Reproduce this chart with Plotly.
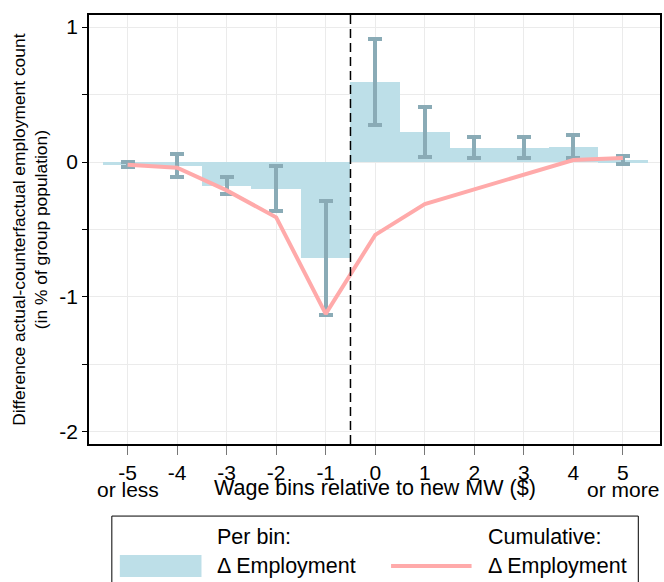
import plotly.graph_objects as go

# wage bins relative to the new minimum wage
bins = [-5, -4, -3, -2, -1, 0, 1, 2, 3, 4, 5]
tick_labels = ["-5", "-4", "-3", "-2", "-1", "0", "1", "2", "3", "4", "5"]
edge_labels = {-5: "or less", 5: "or more"}

# per-bin change in employment (% of group population)
per_bin = [-0.02, -0.027, -0.175, -0.198, -0.714, 0.595, 0.222, 0.106, 0.106, 0.113, 0.012]
ci_low = [-0.035, -0.111, -0.239, -0.36, -1.133, 0.274, 0.04, 0.027, 0.027, 0.032, -0.012]
ci_high = [0.002, 0.062, -0.109, -0.03, -0.291, 0.911, 0.405, 0.188, 0.188, 0.2, 0.044]

# cumulative change in employment
cumulative = [-0.02, -0.042, -0.21, -0.41, -1.125, -0.54, -0.311, -0.2, -0.095, 0.015, 0.03]

y_ticks = [-2, -1.5, -1, -0.5, 0, 0.5, 1]
y_tick_labels = ["-2", "", "-1", "", "0", "", "1"]

FONT = "Liberation Sans, Arial, sans-serif"
BAR_COLOR = "#bddfe8"
CI_COLOR = "#8aabb6"
LINE_COLOR = "#ffaaaa"

fig = go.Figure()

fig.add_trace(go.Bar(
    x=bins,
    y=per_bin,
    width=1,
    marker=dict(color=BAR_COLOR, line=dict(width=0)),
    error_y=dict(
        type="data",
        symmetric=False,
        array=[h - v for h, v in zip(ci_high, per_bin)],
        arrayminus=[v - l for l, v in zip(ci_low, per_bin)],
        color=CI_COLOR,
        thickness=4,
        width=7,
    ),
    name="Per bin: Δ Employment",
    showlegend=False,
))

fig.add_trace(go.Scatter(
    x=bins,
    y=cumulative,
    mode="lines",
    line=dict(color=LINE_COLOR, width=4),
    name="Cumulative: Δ Employment",
    showlegend=False,
))

# dashed line at the new minimum wage
fig.add_shape(type="line", xref="x", yref="paper", x0=-0.5, x1=-0.5, y0=0, y1=1,
              line=dict(color="black", width=1.5, dash="9px,5px"))

# second line under the outer tick labels
for bx, txt in edge_labels.items():
    fig.add_annotation(x=bx, y=-0.107, xref="x", yref="paper", text=txt, showarrow=False,
                       xanchor="center", yanchor="middle", font=dict(size=21, color="black"))

# x axis title sits on the same line as "or less" / "or more"
fig.add_annotation(x=0.5, y=-0.1026, xref="paper", yref="paper",
                   text="Wage bins relative to new MW ($)", showarrow=False,
                   xanchor="center", yanchor="middle", font=dict(size=21.5, color="black"))

# y axis title
fig.add_annotation(x=-0.103, y=0.5, xref="paper", yref="paper", textangle=-90,
                   text="Difference actual-counterfactual employment count<br>(in % of group population)",
                   showarrow=False, xanchor="center", yanchor="middle",
                   font=dict(size=17.4, color="black"))

# hand-made legend box below the plot
fig.add_shape(type="rect", xref="paper", yref="paper", x0=0.040, x1=0.962, y0=-0.168, y1=-0.40,
              line=dict(color="black", width=1), fillcolor="white")
fig.add_shape(type="rect", xref="paper", yref="paper", x0=0.054, x1=0.197, y0=-0.259, y1=-0.310,
              line=dict(width=0), fillcolor=BAR_COLOR)
fig.add_shape(type="line", xref="paper", yref="paper", x0=0.529, x1=0.670, y0=-0.2844, y1=-0.2844,
              line=dict(color=LINE_COLOR, width=4))

legend_text = [
    (0.2199, -0.2168, "Per bin:"),
    (0.2199, -0.2844, "Δ Employment"),
    (0.6946, -0.2168, "Cumulative:"),
    (0.6946, -0.2844, "Δ Employment"),
]
for lx, ly, txt in legend_text:
    fig.add_annotation(x=lx, y=ly, xref="paper", yref="paper", text=txt, showarrow=False,
                       xanchor="left", yanchor="middle", font=dict(size=21.5, color="black"))

fig.update_layout(
    width=664,
    height=582,
    margin=dict(l=89, r=2, t=15, b=138),
    plot_bgcolor="white",
    paper_bgcolor="white",
    font=dict(family=FONT, color="black"),
    bargap=0,
    xaxis=dict(
        range=[-5.78, 5.75],
        tickmode="array",
        tickvals=bins,
        ticktext=tick_labels,
        tickfont=dict(size=21),
        ticks="outside",
        ticklen=9,
        tickcolor="#777777",
        showgrid=True,
        gridcolor="#ebebeb",
        gridwidth=1,
        zeroline=False,
        showline=True,
        linecolor="black",
        linewidth=1.5,
        mirror=True,
    ),
    yaxis=dict(
        range=[-2.09, 1.09],
        tickmode="array",
        tickvals=y_ticks,
        ticktext=y_tick_labels,
        tickfont=dict(size=21),
        ticks="outside",
        ticklen=5,
        tickcolor="black",
        showgrid=True,
        gridcolor="#ebebeb",
        gridwidth=1,
        zeroline=False,
        showline=True,
        linecolor="black",
        linewidth=1.5,
        mirror=True,
    ),
)

# drop the default 8px page margin so the 664x582 figure fills the window exactly
fig.write_html("out.html",
               config={"displayModeBar": False},
               post_script="document.body.style.margin='0'; document.body.style.overflow='hidden';")
